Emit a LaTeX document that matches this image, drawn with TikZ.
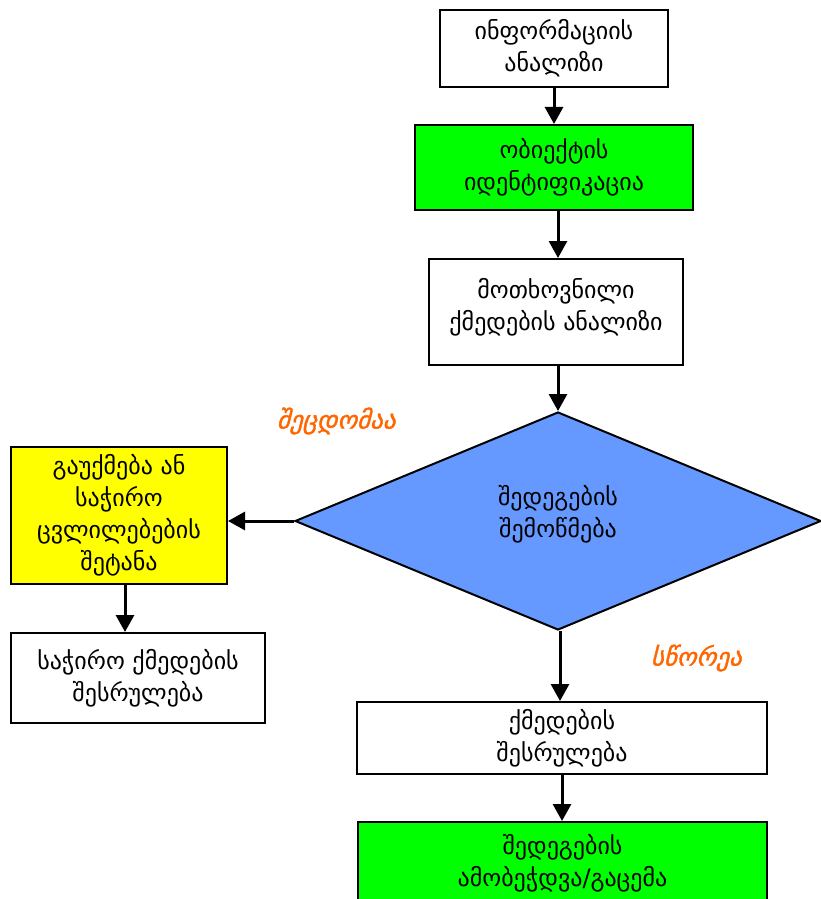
\documentclass[tikz,border=0pt]{standalone}
\usepackage{fontspec}
\setmainfont{DejaVu Sans}
\newfontfamily\notefont[FakeSlant=0.25,FakeBold=1.5]{DejaVu Sans}
\usetikzlibrary{arrows.meta,positioning,shapes.geometric}
\definecolor{boxgreen}{RGB}{0,255,0}
\definecolor{boxyellow}{RGB}{255,255,0}
\definecolor{checkblue}{RGB}{102,153,255}
\definecolor{noteorange}{RGB}{255,102,0}
\tikzset{
  action/.style={
    draw,
    line width=1pt,
    align=center,
    inner sep=0pt,
    font=\fontsize{12}{16}\selectfont
  },
  decision/.style={
    action,
    shape=diamond,
    fill=checkblue
  },
  note/.style={
    text=noteorange,
    font=\notefont\fontsize{12.5}{14}\selectfont
  },
  flow/.style={
    -{Triangle[length=8.5pt,width=9pt]},
    line width=1.5pt
  }
}

\begin{document}
\begin{tikzpicture}[x=0.5pt, y=-0.5pt]
   \useasboundingbox (0,0) rectangle (820,899);

   % main column
   \node[action, minimum width=114pt, minimum height=38.5pt] (info) at (554,48.5)
      {ინფორმაციის\\ანალიზი};
   \node[action, fill=boxgreen, minimum width=139pt, minimum height=42.5pt] (ident) at (554,167.5)
      {ობიექტის\\იდენტიფიკაცია};
   \node[action, minimum width=127pt, minimum height=53pt] (need) at (556,312)
      {მოთხოვნილი\\ქმედების ანალიზი\\[-8pt]};
   \node[decision, minimum width=263pt, minimum height=109pt] (check) at (558,521)
      {შედეგების\\შემოწმება\\[-6pt]};
   \node[action, minimum width=205pt, minimum height=36pt] (exec) at (562,738)
      {ქმედების\\შესრულება};
   \node[action, fill=boxgreen, minimum width=204.5pt, minimum height=41pt] (print) at (562.5,863)
      {შედეგების\\ამობეჭდვა/გაცემა};

   % error branch
   \node[action, fill=boxyellow, minimum width=108pt, minimum height=68.5pt] (cancel) at (119,515.5)
      {გაუქმება ან\\საჭირო\\ცვლილებების\\შეტანა};
   \node[action, minimum width=127pt, minimum height=45pt] (fix) at (138,678)
      {საჭირო ქმედების\\შესრულება};

   \node[note] (wrong) at (336,421) {შეცდომაა};
   \node[note] (right) at (696,658) {სწორეა};

   \draw[flow] (info) -- (info.south |- ident.north);
   \draw[flow] ([xshift=2pt]ident.south) -- ([xshift=2pt]ident.south |- need.north);
   \draw[flow] ([xshift=1pt]need.south) -- ([xshift=1pt]need.south |- check.north);
   \draw[flow] (check.west) -- (check.west -| cancel.east);
   \draw[flow] (cancel.south -| 125,0) -- (125,0 |- fix.north);
   \draw[flow] ([xshift=1pt]check.south) -- ([xshift=1pt]check.south |- exec.north);
   \draw[flow] (exec) -- (exec.south |- print.north);
\end{tikzpicture}
\end{document}
